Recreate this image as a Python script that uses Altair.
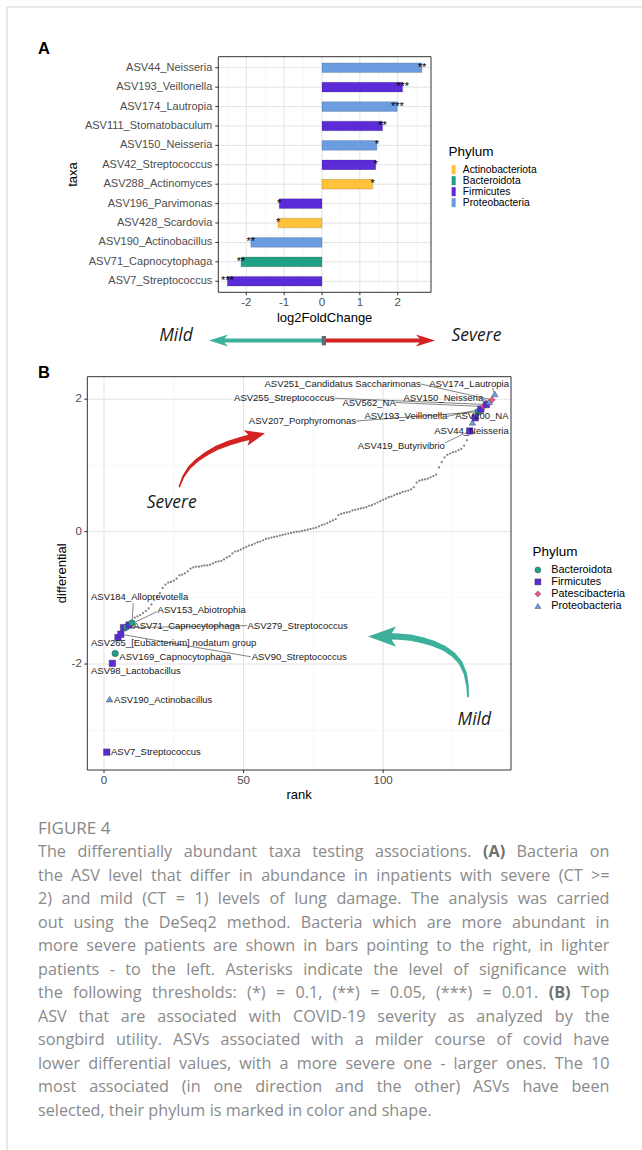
import glob
import struct
import altair as alt
import pandas as pd

FONT = "Liberation Sans"

# ================= Panel A data =================
a_taxa = ["ASV44_Neisseria", "ASV193_Veillonella", "ASV174_Lautropia",
          "ASV111_Stomatobaculum", "ASV150_Neisseria", "ASV42_Streptococcus",
          "ASV288_Actinomyces", "ASV196_Parvimonas", "ASV428_Scardovia",
          "ASV190_Actinobacillus", "ASV71_Capnocytophaga", "ASV7_Streptococcus"]
a_lfc = [2.64, 2.13, 1.99, 1.60, 1.45, 1.42, 1.34, -1.13, -1.16, -1.88, -2.14, -2.50]
a_phylum = ["Proteobacteria", "Firmicutes", "Proteobacteria", "Firmicutes",
            "Proteobacteria", "Firmicutes", "Actinobacteriota", "Firmicutes",
            "Actinobacteriota", "Proteobacteria", "Bacteroidota", "Firmicutes"]
a_stars = ["**", "***", "***", "**", "*", "*", "*", "*", "*", "**", "**", "***"]
a_phyla = ["Actinobacteriota", "Bacteroidota", "Firmicutes", "Proteobacteria"]
a_colors = ["#FFC23A", "#22A087", "#5A2BD7", "#6B9DE0"]
a_ticks = [-2, -1, 0, 1, 2]
a_tick_labels = ["-2", "-1", "0", "1", "2"]
a_minor = [-2.5, -1.5, -0.5, 0.5, 1.5, 2.5]

# ================= Panel B data =================
b_diff = [
    -3.33, -2.53, -1.99, -1.84, -1.60, -1.55, -1.45, -1.44, -1.41, -1.38,
    -1.30, -1.28, -1.26, -1.23, -1.20, -1.16, -1.10, -1.03, -0.98, -0.93,
    -0.85, -0.80, -0.77, -0.76, -0.74, -0.71, -0.66, -0.65, -0.63, -0.60,
    -0.56, -0.54, -0.53, -0.53, -0.52, -0.51, -0.51, -0.50, -0.48, -0.46,
    -0.45, -0.44, -0.42, -0.39, -0.37, -0.33, -0.30, -0.29, -0.27, -0.25,
    -0.23, -0.21, -0.20, -0.18, -0.16, -0.15, -0.13, -0.11, -0.10, -0.09,
    -0.08, -0.07, -0.06, -0.05, -0.04, -0.03, -0.02, -0.01, 0.00, 0.00,
    0.01, 0.02, 0.03, 0.04, 0.05, 0.06, 0.08, 0.10, 0.11, 0.13,
    0.15, 0.17, 0.19, 0.25, 0.27, 0.28, 0.29, 0.30, 0.32, 0.33,
    0.34, 0.35, 0.36, 0.37, 0.39, 0.40, 0.42, 0.44, 0.46, 0.48,
    0.50, 0.52, 0.53, 0.55, 0.57, 0.58, 0.60, 0.61, 0.62, 0.64,
    0.67, 0.74, 0.77, 0.78, 0.79, 0.80, 0.82, 0.84, 0.86, 0.97,
    1.05, 1.12, 1.16, 1.18, 1.20, 1.21, 1.23, 1.25, 1.30, 1.38,
    1.52, 1.65, 1.72, 1.81, 1.85, 1.89, 1.92, 1.96, 1.99, 2.08]
b_hl_rank = [1, 2, 3, 4, 5, 6, 7, 8, 9, 10,
             131, 132, 133, 134, 135, 136, 137, 138, 139, 140]
b_hl_name = ["ASV7_Streptococcus", "ASV190_Actinobacillus", "ASV98_Lactobacillus",
             "ASV169_Capnocytophaga", "ASV265_[Eubacterium] nodatum group",
             "ASV90_Streptococcus", "ASV279_Streptococcus", "ASV71_Capnocytophaga",
             "ASV153_Abiotrophia", "ASV184_Alloprevotella",
             "ASV419_Butyrivibrio", "ASV44_Neisseria", "ASV200_NA",
             "ASV207_Porphyromonas", "ASV193_Veillonella", "ASV562_NA",
             "ASV255_Streptococcus", "ASV150_Neisseria",
             "ASV251_Candidatus Saccharimonas", "ASV174_Lautropia"]
b_hl_phylum = ["Firmicutes", "Proteobacteria", "Firmicutes", "Bacteroidota", "Firmicutes",
               "Firmicutes", "Firmicutes", "Bacteroidota", "Firmicutes", "Bacteroidota",
               "Firmicutes", "Proteobacteria", "Firmicutes", "Bacteroidota", "Firmicutes",
               "Patescibacteria", "Firmicutes", "Proteobacteria", "Patescibacteria",
               "Proteobacteria"]
b_phyla = ["Bacteroidota", "Firmicutes", "Patescibacteria", "Proteobacteria"]
b_colors = ["#22A087", "#5A2BD7", "#F0558A", "#6B9DE0"]
b_shapes = ["circle", "square", "diamond", "triangle-up"]
b_ticks_x = [0, 50, 100]
b_minor_x = [25, 75, 125]
b_ticks_y = [-2, 0, 2]
b_minor_y = [-3, -1, 1]

# repelled label placement (data units: left edge rank, differential)
b_lab_x = [2.5, 3.6, -4.66, 5.5, -4.66, 52.9, 51.4, 10.5, 19.2, -4.66,
           90.9, 118.3, 125.8, 51.9, 93.3, 85.4, 46.6, 107.3, 57.5, 116.5]
b_lab_y = [-3.33, -2.55, -2.10, -1.89, -1.68, -1.89, -1.42, -1.42, -1.19, -0.98,
           1.29, 1.52, 1.74, 1.67, 1.74, 1.95, 2.015, 2.015, 2.23, 2.23]
# leader segments: start (data units) -> the labelled point
b_seg_name = ["ASV251_Candidatus Saccharimonas", "ASV174_Lautropia", "ASV255_Streptococcus",
              "ASV150_Neisseria", "ASV562_NA", "ASV207_Porphyromonas", "ASV193_Veillonella",
              "ASV419_Butyrivibrio", "ASV184_Alloprevotella", "ASV153_Abiotrophia",
              "ASV279_Streptococcus", "ASV90_Streptococcus"]
b_seg_x = [113.4, 139.2, 82.5, 135.8, 104.4, 90.2, 122.9, 122.1, 10.5, 18.9, 51.2, 52.6]
b_seg_y = [2.23, 2.17, 2.015, 2.0, 1.95, 1.67, 1.74, 1.34, -1.08, -1.21, -1.42, -1.89]

# curved annotation arrows in panel B (data units)
red_r = [27.0, 28.4, 30.6, 33.4, 36.8, 40.6, 45.0, 49.0, 52.5]
red_d = [0.68, 0.83, 0.97, 1.08, 1.18, 1.27, 1.34, 1.39, 1.43]
red_w = [1.5, 2.2, 3.0, 3.6, 4.2, 4.6, 5.0, 5.2, 5.4]
teal_r = [130.4, 130.2, 129.4, 127.7, 125.2, 121.8, 118.0, 114.0, 109.7, 105.5, 102.0]
teal_d = [-2.49, -2.32, -2.14, -1.98, -1.86, -1.76, -1.69, -1.64, -1.60, -1.585, -1.58]
teal_w = [1.8, 2.6, 3.4, 4.2, 4.8, 5.3, 5.7, 6.0, 6.2, 6.4, 6.5]

# caption (words marked with ** are bold)
caption_title = "FIGURE 4"
caption_lines = [
    "The differentially abundant taxa testing associations. **(A)** Bacteria on",
    "the ASV level that differ in abundance in inpatients with severe (CT >=",
    "2) and mild (CT = 1) levels of lung damage. The analysis was carried",
    "out using the DeSeq2 method. Bacteria which are more abundant in",
    "more severe patients are shown in bars pointing to the right, in lighter",
    "patients - to the left. Asterisks indicate the level of significance with",
    "the following thresholds: (*) = 0.1, (**) = 0.05, (***) = 0.01. **(B)** Top",
    "ASV that are associated with COVID-19 severity as analyzed by the",
    "songbird utility. ASVs associated with a milder course of covid have",
    "lower differential values, with a more severe one - larger ones. The 10",
    "most associated (in one direction and the other) ASVs have been",
    "selected, their phylum is marked in color and shape.",
]


# ---------- font metrics for justified caption ----------
def load_metrics(path):
    data = open(path, "rb").read()
    n_tables = struct.unpack(">H", data[4:6])[0]
    tables = {}
    for i in range(n_tables):
        rec = data[12 + 16 * i: 28 + 16 * i]
        tables[rec[:4].decode("latin1")] = struct.unpack(">I", rec[8:12])[0]
    upem = struct.unpack(">H", data[tables["head"] + 18: tables["head"] + 20])[0]
    nhm = struct.unpack(">H", data[tables["hhea"] + 34: tables["hhea"] + 36])[0]
    hm = tables["hmtx"]
    adv = [struct.unpack(">H", data[hm + 4 * i: hm + 4 * i + 2])[0] for i in range(nhm)]
    cm = tables["cmap"]
    nsub = struct.unpack(">H", data[cm + 2: cm + 4])[0]
    sub = None
    for i in range(nsub):
        pid, eid, off = struct.unpack(">HHI", data[cm + 4 + 8 * i: cm + 12 + 8 * i])
        if struct.unpack(">H", data[cm + off: cm + off + 2])[0] == 4:
            sub = cm + off
            break
    segx2 = struct.unpack(">H", data[sub + 6: sub + 8])[0]
    nseg = segx2 // 2
    ends = struct.unpack(">%dH" % nseg, data[sub + 14: sub + 14 + segx2])
    so = sub + 16 + segx2
    starts = struct.unpack(">%dH" % nseg, data[so: so + segx2])
    do = so + segx2
    deltas = struct.unpack(">%dh" % nseg, data[do: do + segx2])
    ro = do + segx2
    ros = struct.unpack(">%dH" % nseg, data[ro: ro + segx2])

    def gid(c):
        for i in range(nseg):
            if ends[i] >= c:
                if starts[i] > c:
                    return 0
                if ros[i] == 0:
                    return (c + deltas[i]) & 0xFFFF
                addr = ro + 2 * i + ros[i] + 2 * (c - starts[i])
                g = struct.unpack(">H", data[addr: addr + 2])[0]
                return (g + deltas[i]) & 0xFFFF if g else 0
        return 0

    def width(text, size):
        tot = 0
        for ch in text:
            g = gid(ord(ch))
            tot += adv[g] if g < nhm else adv[-1]
        return tot * size / upem
    return width


def find_font(patterns):
    for p in patterns:
        hits = sorted(glob.glob(p, recursive=True))
        if hits:
            return hits[0]
    return None


CAPFONT = "Open Sans"
reg_path = find_font(["/usr/share/fonts/**/OpenSans-Regular.ttf", "/usr/share/fonts/**/OpenSans[[]*.ttf",
                      "/usr/share/fonts/**/OpenSans*.ttf"])
bold_path = find_font(["/usr/share/fonts/**/OpenSans-Bold.ttf"])
measure = None
try:
    if reg_path:
        measure = load_metrics(reg_path)
except Exception:
    measure = None
if measure is None:
    try:
        p = find_font(["/usr/share/fonts/**/DejaVuSans.ttf"])
        measure = load_metrics(p)
        CAPFONT = "DejaVu Sans"
    except Exception:
        measure = lambda t, s: 0.52 * s * len(t)
measure_bold = measure
try:
    if bold_path and CAPFONT == "Open Sans":
        measure_bold = load_metrics(bold_path)
except Exception:
    measure_bold = measure

CAP_L, CAP_R = 38.0, 609.5
CAP_SIZE = 16.2
CAP_Y0, CAP_DY = 852.0, 23.5


def caption_words():
    rows = []
    for i, line in enumerate(caption_lines):
        words = line.split(" ")
        items = []
        for w in words:
            bold = w.startswith("**") and w.endswith("**")
            t = w.strip("*") if bold else w
            f = measure_bold if bold else measure
            items.append((t, bold, f(t, CAP_SIZE)))
        total = sum(it[2] for it in items)
        if i < len(caption_lines) - 1 and len(items) > 1:
            gap = (CAP_R - CAP_L - total) / (len(items) - 1)
        else:
            gap = measure(" ", CAP_SIZE)
        x = CAP_L
        for t, bold, w in items:
            rows.append({"t": t, "px": x, "py": CAP_Y0 + CAP_DY * i, "bold": bold})
            x += w + gap
    return pd.DataFrame(rows)


# ================= geometry =================
A_L, A_R, A_T, A_B = 218.3, 431.0, 56.7, 292.3
B_L, B_R, B_T, B_B = 87.3, 511.0, 376.7, 770.0

ax = alt.Scale(domain=[-2.74, 2.88], range=[A_L, A_R], nice=False, zero=False)
ay = alt.Scale(domain=a_taxa, range=[A_T, A_B], paddingInner=0.5, paddingOuter=0.32)
bx = alt.Scale(domain=[-5.98, 145.8], range=[B_L, B_R], nice=False, zero=False)
by = alt.Scale(domain=[-3.60, 2.34], range=[B_B, B_T], nice=False, zero=False)

GRID_MAJ = "#e3e3e3"
GRID_MIN = "#f1f1f1"
DARK = "#333333"
TICKLAB = "#4d4d4d"
one = pd.DataFrame({"k": [0]})


def vrules(values, scale, y1, y2, color, width):
    return alt.Chart(pd.DataFrame({"v": values})).mark_rule(color=color, strokeWidth=width).encode(
        x=alt.X("v:Q", scale=scale, axis=None), y=alt.value(y1), y2=alt.value(y2))


def hrules(values, scale, x1, x2, color, width):
    return alt.Chart(pd.DataFrame({"v": values})).mark_rule(color=color, strokeWidth=width).encode(
        y=alt.Y("v:Q", scale=scale, axis=None), x=alt.value(x1), x2=alt.value(x2))


def box(l, r, t, b):
    return alt.Chart(one).mark_rect(fillOpacity=0, stroke=DARK, strokeWidth=1).encode(
        x=alt.value(l), x2=alt.value(r), y=alt.value(t), y2=alt.value(b))


# ================= Panel A =================
dfA = pd.DataFrame({"taxa": a_taxa, "lfc": a_lfc, "phylum": a_phylum,
                    "stars": a_stars, "zero": [0] * len(a_taxa)})
legA = alt.Legend(orient="none", legendX=448.5, legendY=145, title="Phylum",
                  titleFont=FONT, titleFontSize=13.5, titleFontWeight="normal", titleColor="#000",
                  titlePadding=6, labelFont=FONT, labelFontSize=10.3, labelColor="#000",
                  labelOffset=4, symbolType="M-0.45,-1L0.45,-1L0.45,1L-0.45,1Z",
                  symbolSize=81, symbolStrokeWidth=0, rowPadding=0, padding=0)

gridA_min = vrules(a_minor, ax, A_T, A_B, GRID_MIN, 0.6)
gridA_maj = vrules(a_ticks, ax, A_T, A_B, GRID_MAJ, 1.0)
gridA_h = alt.Chart(dfA).mark_rule(color=GRID_MAJ, strokeWidth=1).encode(
    y=alt.Y("taxa:N", scale=ay, axis=None), x=alt.value(A_L), x2=alt.value(A_R))
barsA = alt.Chart(dfA).mark_bar(stroke="#000000", strokeOpacity=0.25, strokeWidth=0.6).encode(
    x=alt.X("lfc:Q", scale=ax, axis=None), x2=alt.X2("zero:Q"),
    y=alt.Y("taxa:N", scale=ay, axis=None),
    color=alt.Color("phylum:N", scale=alt.Scale(domain=a_phyla, range=a_colors), legend=legA))
starsA = alt.Chart(dfA).mark_text(font=FONT, fontSize=11, align="center", baseline="middle",
                                  color="#000").encode(
    x=alt.X("lfc:Q", scale=ax, axis=None), y=alt.Y("taxa:N", scale=ay, axis=None), text="stars:N")
ytickA = alt.Chart(dfA).mark_rule(color=DARK, strokeWidth=1).encode(
    y=alt.Y("taxa:N", scale=ay, axis=None), x=alt.value(A_L - 3), x2=alt.value(A_L))
ylabA = alt.Chart(dfA).mark_text(font=FONT, fontSize=11, align="right", baseline="middle",
                                 color=TICKLAB).encode(
    y=alt.Y("taxa:N", scale=ay, axis=None), x=alt.value(A_L - 6), text="taxa:N")
xtickA = vrules(a_ticks, ax, A_B, A_B + 3, DARK, 1)
xlabA = alt.Chart(pd.DataFrame({"v": a_ticks, "lab": a_tick_labels})).mark_text(
    font=FONT, fontSize=11.5, align="center", baseline="middle", color=TICKLAB).encode(
    x=alt.X("v:Q", scale=ax, axis=None), y=alt.value(A_B + 11), text="lab:N")
panelA = alt.layer(gridA_min, gridA_maj, gridA_h, barsA, starsA, ytickA, ylabA,
                   xtickA, xlabA, box(A_L, A_R, A_T, A_B))

# ================= Panel B =================
dfAll = pd.DataFrame({"rank": list(range(1, len(b_diff) + 1)), "diff": b_diff})
dfGrey = dfAll[~dfAll["rank"].isin(b_hl_rank)]
dfHL = pd.DataFrame({"name": b_hl_name, "rank": b_hl_rank, "phylum": b_hl_phylum,
                     "diff": [b_diff[r - 1] for r in b_hl_rank],
                     "lx": b_lab_x, "ly": b_lab_y})
seg = pd.DataFrame({"name": b_seg_name, "sx": b_seg_x, "sy": b_seg_y})
seg = seg.merge(dfHL[["name", "rank", "diff"]], on="name")

legB = alt.Legend(orient="none", legendX=532.5, legendY=545, title="Phylum",
                  titleFont=FONT, titleFontSize=13.5, titleFontWeight="normal", titleColor="#000",
                  titlePadding=6, labelFont=FONT, labelFontSize=10.8, labelColor="#000",
                  labelOffset=8, symbolSize=36, symbolStrokeColor=DARK, symbolStrokeWidth=0.4,
                  rowPadding=0, padding=0)

gridB = [vrules(b_minor_x, bx, B_T, B_B, GRID_MIN, 0.6),
         hrules(b_minor_y, by, B_L, B_R, GRID_MIN, 0.6),
         vrules(b_ticks_x, bx, B_T, B_B, GRID_MAJ, 1.0),
         hrules(b_ticks_y, by, B_L, B_R, GRID_MAJ, 1.0)]
greyB = alt.Chart(dfGrey).mark_circle(color="#7f7f7f", size=5, opacity=1).encode(
    x=alt.X("rank:Q", scale=bx, axis=None), y=alt.Y("diff:Q", scale=by, axis=None))
segB = alt.Chart(seg).mark_rule(color=DARK, strokeWidth=0.6).encode(
    x=alt.X("sx:Q", scale=bx, axis=None), y=alt.Y("sy:Q", scale=by, axis=None),
    x2=alt.X2("rank:Q"), y2=alt.Y2("diff:Q"))
hlB = alt.Chart(dfHL).mark_point(filled=True, size=42, stroke=DARK, strokeWidth=0.4, opacity=1).encode(
    x=alt.X("rank:Q", scale=bx, axis=None), y=alt.Y("diff:Q", scale=by, axis=None),
    color=alt.Color("phylum:N", scale=alt.Scale(domain=b_phyla, range=b_colors), legend=legB),
    shape=alt.Shape("phylum:N", scale=alt.Scale(domain=b_phyla, range=b_shapes), legend=legB))
labB = alt.Chart(dfHL).mark_text(font=FONT, fontSize=9.5, align="left", baseline="middle",
                                 color="#1a1a1a").encode(
    x=alt.X("lx:Q", scale=bx, axis=None), y=alt.Y("ly:Q", scale=by, axis=None), text="name:N")

RED = "#D32222"
TEAL = "#3DB09C"
dfRed = pd.DataFrame({"r": red_r, "d": red_d, "w": red_w, "o": list(range(len(red_r)))})
dfTeal = pd.DataFrame({"r": teal_r, "d": teal_d, "w": teal_w, "o": list(range(len(teal_r)))})
redTrail = alt.Chart(dfRed).mark_trail(color=RED).encode(
    x=alt.X("r:Q", scale=bx, axis=None), y=alt.Y("d:Q", scale=by, axis=None),
    size=alt.Size("w:Q", scale=None, legend=None), order=alt.Order("o:Q"))
tealTrail = alt.Chart(dfTeal).mark_trail(color=TEAL).encode(
    x=alt.X("r:Q", scale=bx, axis=None), y=alt.Y("d:Q", scale=by, axis=None),
    size=alt.Size("w:Q", scale=None, legend=None), order=alt.Order("o:Q"))
redHead = alt.Chart(pd.DataFrame({"r": [54.2], "d": [1.45]})).mark_point(
    shape="M1,0L-1,-0.8L-0.5,0L-1,0.8Z", size=400, angle=346, filled=True, color=RED, opacity=1).encode(
    x=alt.X("r:Q", scale=bx, axis=None), y=alt.Y("d:Q", scale=by, axis=None))
tealHead = alt.Chart(pd.DataFrame({"r": [99.6], "d": [-1.585]})).mark_point(
    shape="M-1,0L1,-0.72L0.55,0L1,0.72Z", size=784, filled=True, color=TEAL, opacity=1).encode(
    x=alt.X("r:Q", scale=bx, axis=None), y=alt.Y("d:Q", scale=by, axis=None))

xtickB = vrules(b_ticks_x, bx, B_B, B_B + 3, DARK, 1)
ytickB = hrules(b_ticks_y, by, B_L - 3, B_L, DARK, 1)
xlabB = alt.Chart(pd.DataFrame({"v": b_ticks_x, "lab": [str(v) for v in b_ticks_x]})).mark_text(
    font=FONT, fontSize=11.5, align="center", baseline="middle", color=TICKLAB).encode(
    x=alt.X("v:Q", scale=bx, axis=None), y=alt.value(B_B + 11), text="lab:N")
ylabB = alt.Chart(pd.DataFrame({"v": b_ticks_y, "lab": [str(v) for v in b_ticks_y]})).mark_text(
    font=FONT, fontSize=11.5, align="right", baseline="middle", color=TICKLAB).encode(
    y=alt.Y("v:Q", scale=by, axis=None), x=alt.value(B_L - 5.5), text="lab:N")

panelB = alt.layer(*gridB, greyB, segB, hlB, labB, redTrail, redHead, tealTrail, tealHead,
                   xtickB, ytickB, xlabB, ylabB, box(B_L, B_R, B_T, B_B))


# ================= decorations =================
def label(text, x, y, size, font=FONT, weight="normal", style="normal", color="#000",
          angle=0, align="center"):
    kw = dict(font=font, fontSize=size, fontWeight=weight, fontStyle=style, color=color,
              align=align, baseline="middle")
    if angle:
        kw["angle"] = angle
    return alt.Chart(pd.DataFrame({"t": [text]})).mark_text(**kw).encode(
        x=alt.value(x), y=alt.value(y), text="t:N")


card = [alt.Chart(one).mark_rule(color="#d3d3d3", strokeWidth=1).encode(
            x=alt.value(7), y=alt.value(7), y2=alt.value(1150)),
        alt.Chart(one).mark_rule(color="#d3d3d3", strokeWidth=1).encode(
            x=alt.value(7), x2=alt.value(642), y=alt.value(7))]

texts = [
    label("A", 44, 49, 16.5, weight="bold"),
    label("B", 44, 373, 16.5, weight="bold"),
    label("log2FoldChange", (A_L + A_R) / 2, 318, 13),
    label("taxa", 72.5, (A_T + A_B) / 2, 13, angle=270),
    label("rank", (B_L + B_R) / 2, 795, 13),
    label("differential", 62, (B_T + B_B) / 2, 13, angle=270),
    label("Mild", 176, 335.5, 17.5, font="Open Sans", style="italic", color="#1a1a1a"),
    label("Severe", 476.5, 335.5, 17.5, font="Open Sans", style="italic", color="#1a1a1a"),
    label("Severe", 171.7, 502.5, 17.5, font="Open Sans", style="italic", color="#1a1a1a"),
    label("Mild", 474.3, 719.5, 17.5, font="Open Sans", style="italic", color="#1a1a1a"),
]

strip = [
    alt.Chart(one).mark_rule(color=TEAL, strokeWidth=4).encode(
        x=alt.value(220), x2=alt.value(322), y=alt.value(340.5)),
    alt.Chart(one).mark_rule(color=RED, strokeWidth=4).encode(
        x=alt.value(326), x2=alt.value(425), y=alt.value(340.5)),
    alt.Chart(one).mark_point(shape="M-1,0L1,-0.62L0.45,0L1,0.62Z", size=361, filled=True,
                              color=TEAL, opacity=1).encode(x=alt.value(218.5), y=alt.value(340.5)),
    alt.Chart(one).mark_point(shape="M1,0L-1,-0.62L-0.45,0L-1,0.62Z", size=361, filled=True,
                              color=RED, opacity=1).encode(x=alt.value(425.5), y=alt.value(340.5)),
    alt.Chart(one).mark_rect(color="#5E6B7B").encode(
        x=alt.value(321.7), x2=alt.value(326), y=alt.value(336), y2=alt.value(345.3)),
]

capdf = caption_words()
capNormal = alt.Chart(capdf[~capdf["bold"]]).mark_text(
    font=CAPFONT, fontSize=CAP_SIZE, color="#8a8a8a", align="left", baseline="middle").encode(
    x=alt.X("px:Q", scale=None, axis=None), y=alt.Y("py:Q", scale=None, axis=None), text="t:N")
capBold = alt.Chart(capdf[capdf["bold"]]).mark_text(
    font=CAPFONT, fontSize=CAP_SIZE, fontWeight="bold", color="#707070", align="left",
    baseline="middle").encode(
    x=alt.X("px:Q", scale=None, axis=None), y=alt.Y("py:Q", scale=None, axis=None), text="t:N")
capTitle = label(caption_title, CAP_L, 829, 17, font=CAPFONT, color="#858585", align="left")

chart = alt.layer(panelA, panelB, *card, *texts, *strip, capNormal, capBold, capTitle).resolve_scale(
    x="independent", y="independent", color="independent", shape="independent"
).properties(
    width=642, height=1150, padding=0, background="white",
    autosize=alt.AutoSizeParams(type="none")
).configure_view(strokeWidth=0)

chart.save("out.html", embed_options={"renderer": "svg", "actions": False})
